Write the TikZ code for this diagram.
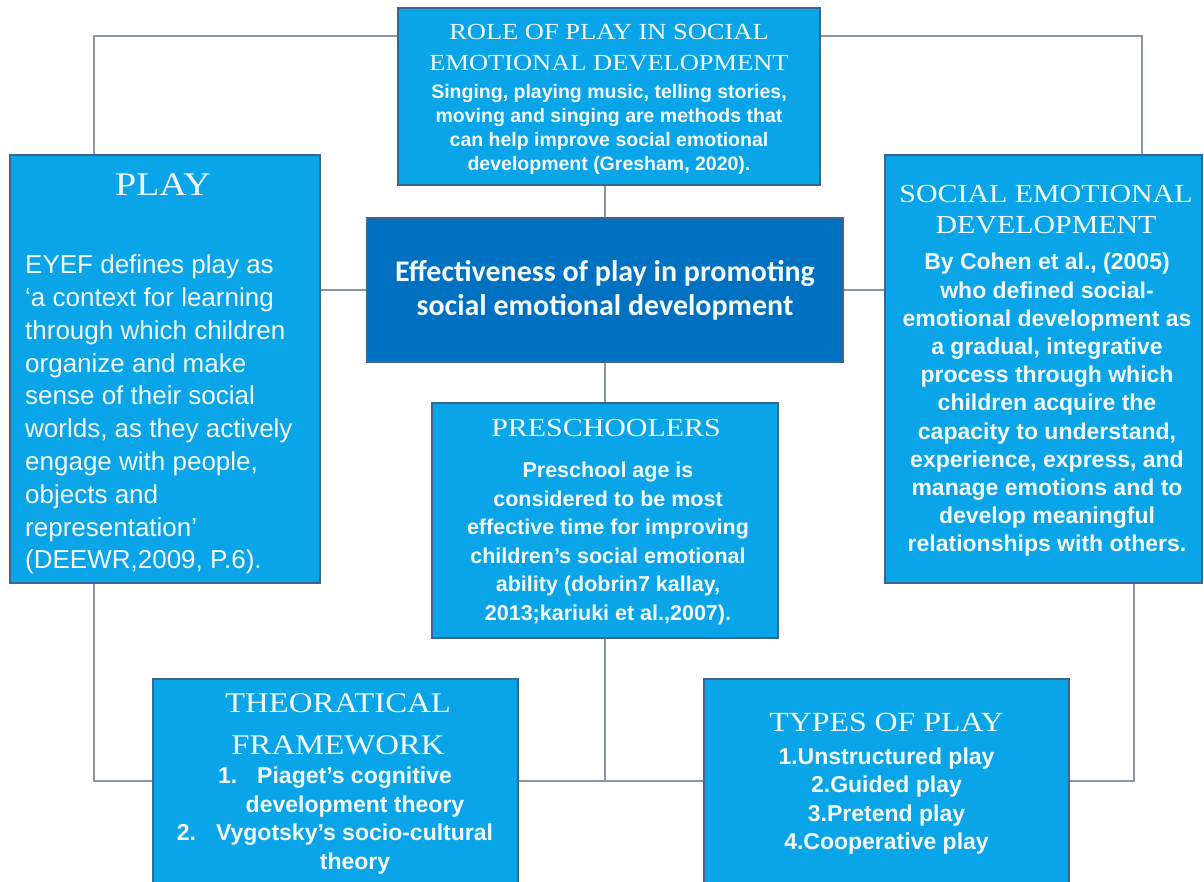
\documentclass[tikz,border=0pt]{standalone}
\usepackage{fontspec}
\setmainfont{Liberation Serif}
\newfontfamily\headfont[FakeStretch=1.15]{Liberation Serif}
\newfontfamily\bodyfont{Liberation Sans}
\newfontfamily\hubfont{Carlito}
\usetikzlibrary{shadows}

\definecolor{boxblue}{RGB}{10,165,232}
\definecolor{hubblue}{RGB}{0,112,192}
\definecolor{edgeblue}{RGB}{62,100,145}
\definecolor{linkgray}{RGB}{135,150,165}
\definecolor{ink}{RGB}{242,250,255}

\newcommand\fsz[2]{\fontsize{#1pt}{#2pt}\selectfont}

\tikzset{
  panel/.style={draw=edgeblue, line width=1.1pt, fill=boxblue, inner sep=0pt,
    drop shadow={shadow xshift=1.3pt, shadow yshift=-1.3pt, opacity=0.35, fill=black!60}},
  hubpanel/.style={panel, fill=hubblue},
  link/.style={draw=linkgray, line width=1.4pt},
  heading/.style={text=ink, align=center, inner sep=0pt},
  body/.style={text=ink, align=center, inner sep=0pt},
}

\begin{document}
\begin{tikzpicture}[x=1pt, y=-1pt]
\clip (0,0) rectangle (1204,881);
\fill[white] (0,0) rectangle (1204,881);

% panels
\node[panel, minimum width=422pt, minimum height=177pt] (role) at (609,96.5) {};
\node[panel, minimum width=310pt, minimum height=428pt] (play) at (165,369) {};
\node[panel, minimum width=317pt, minimum height=428pt] (social) at (1043.5,369) {};
\node[hubpanel, minimum width=476pt, minimum height=144pt, text=ink, align=center,
      font=\hubfont\bfseries\fsz{30}{34}] (hub) at (605,290)
  {Effectiveness of play in promoting\\social emotional development};
\node[panel, minimum width=346pt, minimum height=235pt] (pre) at (605,520.5) {};
\node[panel, minimum width=365pt, minimum height=221pt] (theo) at (335.5,789.5) {};
\node[panel, minimum width=365pt, minimum height=221pt] (types) at (886.5,789.5) {};

% connectors
\coordinate (tl) at (94,36);
\coordinate (tr) at (1142,36);
\coordinate (bl) at (94,781);
\coordinate (br) at (1134,781);
\coordinate (bm) at (605,781);
\draw[link] (tl -| role.west) -- (tl) -- (tl |- play.north);
\draw[link] (tr -| role.east) -- (tr) -- (tr |- social.north);
\draw[link] (hub.north |- role.south) -- (hub.north);
\draw[link] (hub.west) -- (hub.west -| play.east);
\draw[link] (hub.east) -- (hub.east -| social.west);
\draw[link] (hub.south) -- (pre.north);
\draw[link] (pre.south) -- (bm);
\draw[link] (bl |- play.south) -- (bl) -- (bl -| theo.west);
\draw[link] (bm -| theo.east) -- (bm -| types.west);
\draw[link] (br |- social.south) -- (br) -- (br -| types.east);

% texts
\node[heading, font=\headfont\fsz{23}{31}] (rolehead) at (609,47.5)
  {ROLE OF PLAY IN SOCIAL\\EMOTIONAL DEVELOPMENT};
\node[body, font=\bodyfont\bfseries\fsz{19.5}{24}] (rolebody) at (609,129)
  {Singing, playing music, telling stories,\\moving and singing are methods that\\can help improve social emotional\\development (Gresham, 2020).};

\node[heading, font=\headfont\fsz{33}{36}] (playhead) at (163,185) {PLAY};
\node[body, align=left, anchor=west, font=\bodyfont\fsz{26}{32.8}] (playbody) at (25,414.5)
  {EYEF defines play as\\‘a context for learning\\through which children\\organize and make\\sense of their social\\worlds, as they actively\\engage with people,\\objects and\\representation’\\(DEEWR,2009, P.6).};

\node[heading, font=\headfont\fsz{26}{31}] (sochead) at (1046,210)
  {SOCIAL EMOTIONAL\\DEVELOPMENT};
\node[body, font=\bodyfont\bfseries\fsz{23}{28.2}] (socbody) at (1047,405)
  {By Cohen et al., (2005)\\who defined social-\\emotional development as\\a gradual, integrative\\process through which\\children acquire the\\capacity to understand,\\experience, express, and\\manage emotions and to\\develop meaningful\\relationships with others.};

\node[heading, font=\headfont\fsz{26}{29}] (prehead) at (606,428) {PRESCHOOLERS};
\node[body, font=\bodyfont\bfseries\fsz{21.5}{28.6}] (prebody) at (608,543.5)
  {Preschool age is\\considered to be most\\effective time for improving\\children’s social emotional\\ability (dobrin7 kallay,\\2013;kariuki et al.,2007).};

\node[heading, font=\headfont\fsz{28.5}{42}] (theohead) at (338,724) {THEORATICAL\\FRAMEWORK};
\node[body, font=\bodyfont\bfseries\fsz{23}{28.5}] (theobody) at (335,820.5)
  {1.\hspace{20pt}Piaget’s cognitive\\\hspace*{40pt}development theory\\2.\hspace{20pt}Vygotsky’s socio-cultural\\\hspace*{40pt}theory};

\node[heading, font=\headfont\fsz{27.7}{30}] (typeshead) at (886.5,722) {TYPES OF PLAY};
\node[body, font=\bodyfont\bfseries\fsz{23}{28.3}] (typesbody) at (886.5,801)
  {1.Unstructured play\\2.Guided play\\3.Pretend play\\4.Cooperative play};
\end{tikzpicture}
\end{document}
